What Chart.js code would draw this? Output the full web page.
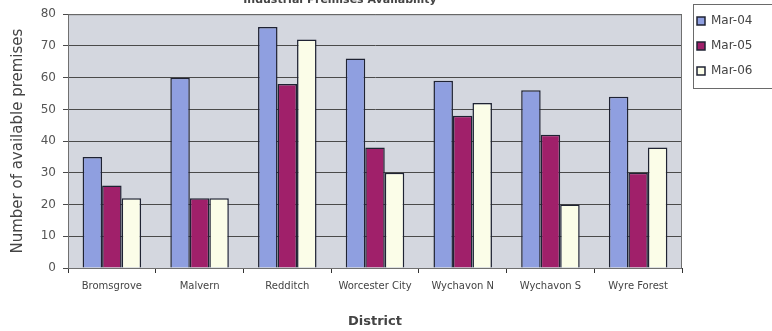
<!DOCTYPE html>
<html>
<head>
<meta charset="utf-8">
<script src="https://cdn.jsdelivr.net/npm/chart.js@4/dist/chart.umd.min.js"></script>
<style>
  html, body { margin: 0; padding: 0; background: #ffffff; }
  #wrap { position: relative; width: 772px; height: 331px; }
</style>
</head>
<body>
<div id="wrap"><canvas id="c" width="772" height="331"></canvas></div>
<script>
// Districts and the count of available industrial premises at each survey date
const categories = ['Bromsgrove', 'Malvern', 'Redditch', 'Worcester City', 'Wychavon N', 'Wychavon S', 'Wyre Forest'];
const seriesNames = ['Mar-04', 'Mar-05', 'Mar-06'];
const mar04 = [35, 60, 76, 66, 59, 56, 54];
const mar05 = [26, 22, 58, 38, 48, 42, 30];
const mar06 = [22, 22, 72, 30, 52, 20, 38];
const yTickValues = [0, 10, 20, 30, 40, 50, 60, 70, 80];

const chartTitle = 'Industrial Premises Availability';
const xTitle = 'District';
const yTitle = 'Number of available premises';

const FONT = "'DejaVu Sans', 'Liberation Sans', sans-serif";

// Grey plot panel behind the gridlines, framed once the grid is drawn
const plotPanel = {
  id: 'plotPanel',
  beforeDraw(chart) {
    const { ctx, chartArea: a } = chart;
    ctx.save();
    ctx.fillStyle = '#d4d7df';
    ctx.fillRect(a.left, a.top, a.right - a.left, a.bottom - a.top);
    ctx.restore();
  },
  beforeDatasetsDraw(chart) {
    const { ctx, chartArea: a } = chart;
    ctx.save();
    ctx.strokeStyle = '#707070';
    ctx.lineWidth = 1;
    ctx.strokeRect(a.left + 0.5, a.top + 0.5, a.right - a.left - 1, a.bottom - a.top);
    ctx.restore();
  }
};

// Legend sits in its own framed box in the top-right corner
const legendFrame = {
  id: 'legendFrame',
  beforeUpdate(chart) {
    const lg = chart.legend;
    if (lg && !lg._fixedWidth) {
      const baseFit = lg.fit.bind(lg);
      lg.fit = function () { baseFit(); this.width = 90; };
      lg._fixedWidth = true;
    }
  },
  afterLayout(chart) {
    const lg = chart.legend;
    lg.left += 2; lg.right += 2;
    lg.top -= 11; lg.bottom -= 11;
  },
  beforeDraw(chart) {
    const lg = chart.legend;
    const pad = lg.options.labels.padding;
    const x = Math.round(lg.left + pad - 4) + 0.5;
    const y = 4.5;
    const ctx = chart.ctx;
    ctx.save();
    ctx.fillStyle = '#ffffff';
    ctx.fillRect(x, y, 772 - x + 5, 84);
    ctx.strokeStyle = '#6a6a6a';
    ctx.lineWidth = 1;
    ctx.strokeRect(x, y, 772 - x + 5, 84);
    ctx.restore();
  }
};

// Chart heading, set high in the page
const headline = {
  id: 'headline',
  afterDraw(chart) {
    const ctx = chart.ctx;
    ctx.save();
    ctx.font = 'bold 11px ' + FONT;
    ctx.fillStyle = '#444444';
    ctx.textAlign = 'center';
    ctx.textBaseline = 'alphabetic';
    ctx.fillText(chartTitle, 340, 2.5);
    ctx.restore();
  }
};

const barBorder = '#1f2333';

new Chart(document.getElementById('c'), {
  type: 'bar',
  data: {
    labels: categories,
    datasets: [
      { label: seriesNames[0], data: mar04, backgroundColor: '#8f9fe0', borderColor: barBorder, borderWidth: 1.5 },
      { label: seriesNames[1], data: mar05, backgroundColor: '#a0206a', borderColor: barBorder, borderWidth: 1.5 },
      { label: seriesNames[2], data: mar06, backgroundColor: '#fbfde8', borderColor: barBorder, borderWidth: 1.5 }
    ]
  },
  options: {
    responsive: false,
    animation: false,
    devicePixelRatio: 1,
    layout: { padding: { top: 13, right: 0, bottom: 0, left: 0 } },
    datasets: { bar: { categoryPercentage: 0.667, barPercentage: 1.0 } },
    plugins: {
      title: { display: false },
      tooltip: { enabled: false },
      legend: {
        display: true,
        position: 'right',
        align: 'start',
        labels: {
          boxWidth: 8,
          boxHeight: 8,
          padding: 13,
          color: '#444444',
          font: { family: FONT, size: 12 }
        }
      }
    },
    scales: {
      x: {
        grid: { display: true, drawOnChartArea: false, drawTicks: true, tickLength: 5, color: '#333333', offset: true },
        border: { display: true, color: '#333333', width: 1 },
        ticks: {
          autoSkip: false, maxRotation: 0, minRotation: 0, padding: 7,
          color: '#444444', font: { family: FONT, size: 10 }
        },
        title: {
          display: true, text: xTitle, color: '#444444',
          font: { family: FONT, size: 13, weight: 'bold' },
          padding: { top: 0, bottom: 2 }
        },
        afterFit(scale) { scale.height = 63; }
      },
      y: {
        min: 0, max: 80,
        afterBuildTicks(scale) { scale.ticks = yTickValues.map(v => ({ value: v })); },
        grid: { color: '#4a4a4a', lineWidth: 1, tickLength: 5, drawTicks: true },
        border: { display: true, color: '#333333', width: 1 },
        ticks: { padding: 7, color: '#555555', font: { family: FONT, size: 12 } },
        title: {
          display: true, text: yTitle, color: '#444444',
          font: { family: FONT, size: 15 },
          padding: { top: 9, bottom: 0 }
        },
        afterFit(scale) { scale.width = 68; }
      }
    }
  },
  plugins: [plotPanel, legendFrame, headline]
});
</script>
</body>
</html>
